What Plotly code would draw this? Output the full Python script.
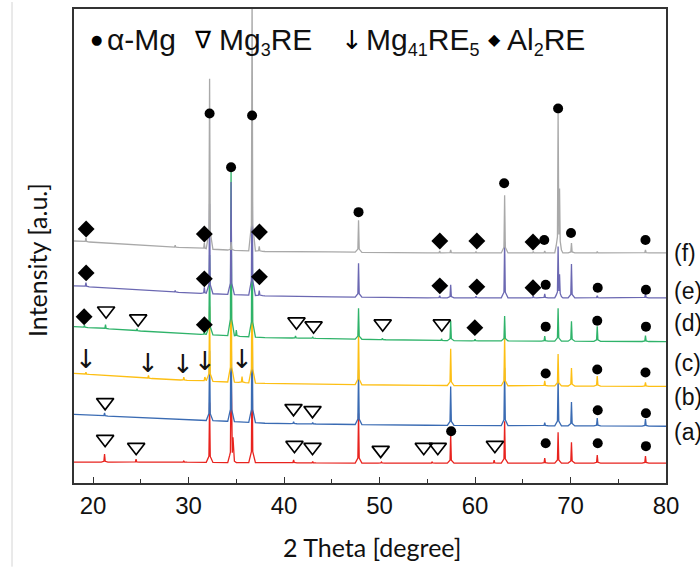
import numpy as np
import plotly.graph_objects as go

# ---------------- data ----------------
x_range = [18, 80]
x_ticks = [20, 30, 40, 50, 60, 70, 80]
x_minor = [25, 35, 45, 55, 65, 75]
y_range = [0, 476]

sample_labels = ["(a)", "(b)", "(c)", "(d)", "(e)", "(f)"]
label_y = [51, 86, 121, 161, 193, 231]

# baseline anchor angles and per-sample baseline intensity
baseline_deg = [18, 22, 26, 30, 34, 38, 45, 55, 80]
base_a = [21, 21, 21, 21, 20.5, 20.5, 20, 20, 20]
base_b = [69, 67, 65, 63.5, 62, 60, 59, 58, 57]
base_c = [110, 107.5, 105, 103, 101.5, 100, 99, 98, 97]
base_d = [157, 154.5, 152, 150, 148, 146, 145, 143, 142]
base_e = [198, 195.5, 193, 191, 189.5, 188, 187, 186, 186]
base_f = [243, 240.5, 238, 236, 234, 232.5, 232, 231, 231]

# peak positions (2theta) and peak heights above baseline
pos_a = [21.2, 24.5, 29.5, 32.2, 34.45, 34.65, 36.65, 41.0, 43.0, 47.8, 50.2, 55.5, 57.45, 62.0, 63.1, 67.3, 68.7, 70.1, 72.8, 77.85]
int_a = [8, 3, 1, 60, 100, 20, 110, 3, 1.5, 50, 1, 1, 29, 3, 42, 5, 31, 21, 8, 7]

pos_b = [21.2, 32.2, 34.45, 36.65, 41.0, 43.0, 47.8, 57.45, 63.1, 67.3, 68.7, 70.1, 72.8, 77.85]
int_b = [3, 70, 120, 130, 2, 1.5, 55, 39, 58, 3, 48, 24, 8, 7]

pos_c = [19.25, 25.8, 29.5, 31.7, 32.2, 34.45, 35.6, 36.65, 47.8, 57.45, 63.1, 67.3, 68.7, 70.1, 72.8, 77.85]
int_c = [2, 3, 3, 4, 75, 150, 6, 140, 55, 37, 50, 5, 32, 18, 10, 4]

pos_d = [19.1, 21.3, 24.6, 31.65, 32.2, 34.45, 35.0, 36.65, 41.2, 43.0, 47.8, 50.3, 56.5, 57.45, 60.0, 63.1, 67.3, 68.7, 70.1, 72.8, 77.85]
int_d = [2, 4, 2, 3, 80, 167, 6, 150, 2, 1.5, 31, 1.5, 2, 20, 1.5, 25, 5, 33, 20, 15, 6]

pos_e = [19.25, 28.6, 31.65, 32.2, 34.45, 36.65, 37.4, 47.8, 56.3, 57.45, 60.1, 63.1, 66.1, 67.3, 68.7, 68.85, 70.1, 72.8, 77.85]
int_e = [4, 1.5, 6, 90, 113, 150, 5, 34, 2, 13, 1.5, 56, 1.5, 4, 50, 20, 34, 2, 4]

pos_f = [19.25, 28.6, 31.65, 32.2, 34.45, 36.65, 37.4, 47.8, 56.3, 57.45, 60.1, 63.1, 66.1, 67.3, 68.7, 68.85, 70.1, 72.8, 77.85]
int_f = [4, 2, 6, 171, 8, 260, 5, 32, 2, 3, 1.5, 58, 1.5, 2, 136, 55, 10, 1.5, 3]

# phase markers
dot_x = [32.2, 34.45, 36.65, 47.8, 57.5, 63.05, 68.7,
         67.25, 70.05, 77.85, 67.4, 72.85, 77.9, 67.4, 72.8, 77.9,
         67.4, 72.8, 77.85, 72.85, 77.9, 67.4, 72.85, 77.9]
dot_y = [371, 317, 369, 272, 52, 301, 376,
         244, 251, 244, 199, 196, 194, 157, 163, 157,
         110, 114, 111, 73, 70, 40, 40, 37]

diamond_x = [19.27, 31.65, 37.42, 56.31, 60.19, 66.07,
             19.27, 31.65, 37.42, 56.31, 60.19, 66.07,
             19.06, 31.65, 59.98]
diamond_y = [255, 250, 252, 243, 243, 242,
             211, 205, 207, 198, 197, 196,
             167, 159, 156]

nabla_x = [21.36, 24.72, 41.30, 43.09, 50.33, 56.52,
           21.26, 40.99, 42.98,
           21.26, 24.51, 41.09, 42.98, 50.12, 54.63, 56.10, 62.08]
nabla_y = [173, 165, 162, 158, 160, 160,
           81, 75, 73,
           44, 36, 38, 36, 33, 36, 36, 38]

arrow_x = [19.27, 25.77, 29.44, 31.75, 35.63]
arrow_y = [125, 121, 120, 123, 125]

# ---------------- drawing ----------------
colors = ["#e8231e", "#3a6bb3", "#fdbf14", "#2fb36a", "#6b68b2", "#a9a9a9"]
bases = [base_a, base_b, base_c, base_d, base_e, base_f]
poss = [pos_a, pos_b, pos_c, pos_d, pos_e, pos_f]
ints = [int_a, int_b, int_c, int_d, int_e, int_f]

shape_dx = np.array([-0.35, -0.07, 0.0, 0.07, 0.35])
shape_fr = np.array([0.0, 0.10, 1.0, 0.10, 0.0])


def build(base, pos, inten):
    xs = set(baseline_deg)
    for p in pos:
        xs.update((p + shape_dx).round(4).tolist())
    xs = np.array(sorted(xs))
    ys = np.interp(xs, baseline_deg, base)
    for p, h in zip(pos, inten):
        ys = ys + h * np.interp(xs, p + shape_dx, shape_fr, left=0, right=0)
    return xs, ys


fig = go.Figure()
for base, pos, inten, col in zip(bases, poss, ints, colors):
    xs, ys = build(base, pos, inten)
    fig.add_trace(go.Scatter(x=xs, y=ys, mode="lines",
                             line=dict(color=col, width=1.3), hoverinfo="skip"))

fig.add_trace(go.Scatter(x=dot_x, y=dot_y, mode="markers", cliponaxis=False,
                         marker=dict(symbol="circle", size=10, color="black")))
fig.add_trace(go.Scatter(x=diamond_x, y=diamond_y, mode="markers", cliponaxis=False,
                         marker=dict(symbol="diamond", size=13, color="black")))
fig.add_trace(go.Scatter(x=nabla_x, y=nabla_y, mode="markers", cliponaxis=False,
                         marker=dict(symbol="triangle-down-open", size=15, color="black",
                                     line=dict(width=1.7, color="black"))))

L, R, T, B = 74, 34, 7, 84
PW, PH = 700 - L - R, 567 - T - B


def px(xp):
    return (xp - L) / PW


def py(yp):
    return (567 - B - yp) / PH


ann = []
for ax_, ay_ in zip(arrow_x, arrow_y):
    ann.append(dict(x=ax_, y=ay_, xref="x", yref="y", text="↓",
                    font=dict(family="DejaVu Sans", size=26, color="#111")))
# legend row
leg_font = dict(family="Liberation Sans", size=30, color="#111")
SUB = "<sub><span style='font-size:18px'>{}</span></sub>"
ann.append(dict(x=px(96), y=py(38), text="●", font=dict(family="DejaVu Sans", size=13, color="black")))
ann.append(dict(x=px(105), y=py(38), text="α-Mg", xanchor="left", font=leg_font))
ann.append(dict(x=px(203), y=py(38), text="∇", font=dict(family="DejaVu Sans", size=24, color="black")))
ann.append(dict(x=px(217), y=py(40), text="Mg" + SUB.format("3") + "RE", xanchor="left", font=leg_font))
ann.append(dict(x=px(352), y=py(38), text="↓", font=dict(family="DejaVu Sans", size=26, color="black")))
ann.append(dict(x=px(364), y=py(40), text="Mg" + SUB.format("41") + "RE" + SUB.format("5"),
                xanchor="left", font=leg_font))
ann.append(dict(x=px(494), y=py(38), text="◆", font=dict(family="DejaVu Sans", size=16, color="black")))
ann.append(dict(x=px(505), y=py(40), text="Al" + SUB.format("2") + "RE", xanchor="left", font=leg_font))
# sample labels
for lab, ly in zip(sample_labels, label_y):
    ann.append(dict(x=px(672), y=ly, yref="y", text=lab, xanchor="left",
                    font=dict(family="Liberation Sans", size=23, color="#111")))
# axis titles
ann.append(dict(x=px(372), y=py(547), text="2 Theta [degree]",
                font=dict(family="Lato", size=25, color="#111")))
ann.append(dict(x=px(37), y=py(259), text="Intensity [a.u.]", textangle=-90,
                font=dict(family="Lato", size=25, color="#111")))

for a in ann:
    a.setdefault("xref", "paper")
    a.setdefault("yref", "paper")
    a.setdefault("yanchor", "middle")
    a.setdefault("xanchor", "center")
    a["showarrow"] = False

fig.update_layout(
    width=700, height=567, margin=dict(l=L, r=R, t=T, b=B),
    paper_bgcolor="white", plot_bgcolor="white", showlegend=False,
    annotations=ann,
    shapes=[dict(type="line", xref="paper", yref="paper", x0=px(12), x1=px(12),
                 y0=py(567), y1=py(0), line=dict(color="#d4d4d4", width=1))],
)
fig.update_xaxes(range=x_range, tickvals=x_ticks, ticks="inside", ticklen=6, tickwidth=1.2,
                 tickcolor="#333", showline=True, mirror=True, linecolor="#333", linewidth=1.6,
                 showgrid=False, zeroline=False,
                 minor=dict(tickvals=x_minor, ticks="inside", ticklen=4, tickwidth=1.2, tickcolor="#333"),
                 tickfont=dict(family="Liberation Sans", size=24, color="#111"))
fig.update_yaxes(range=y_range, showticklabels=False, ticks="", showline=True, mirror=True,
                 linecolor="#333", linewidth=1.6, showgrid=False, zeroline=False)

fig.write_html("out.html")
